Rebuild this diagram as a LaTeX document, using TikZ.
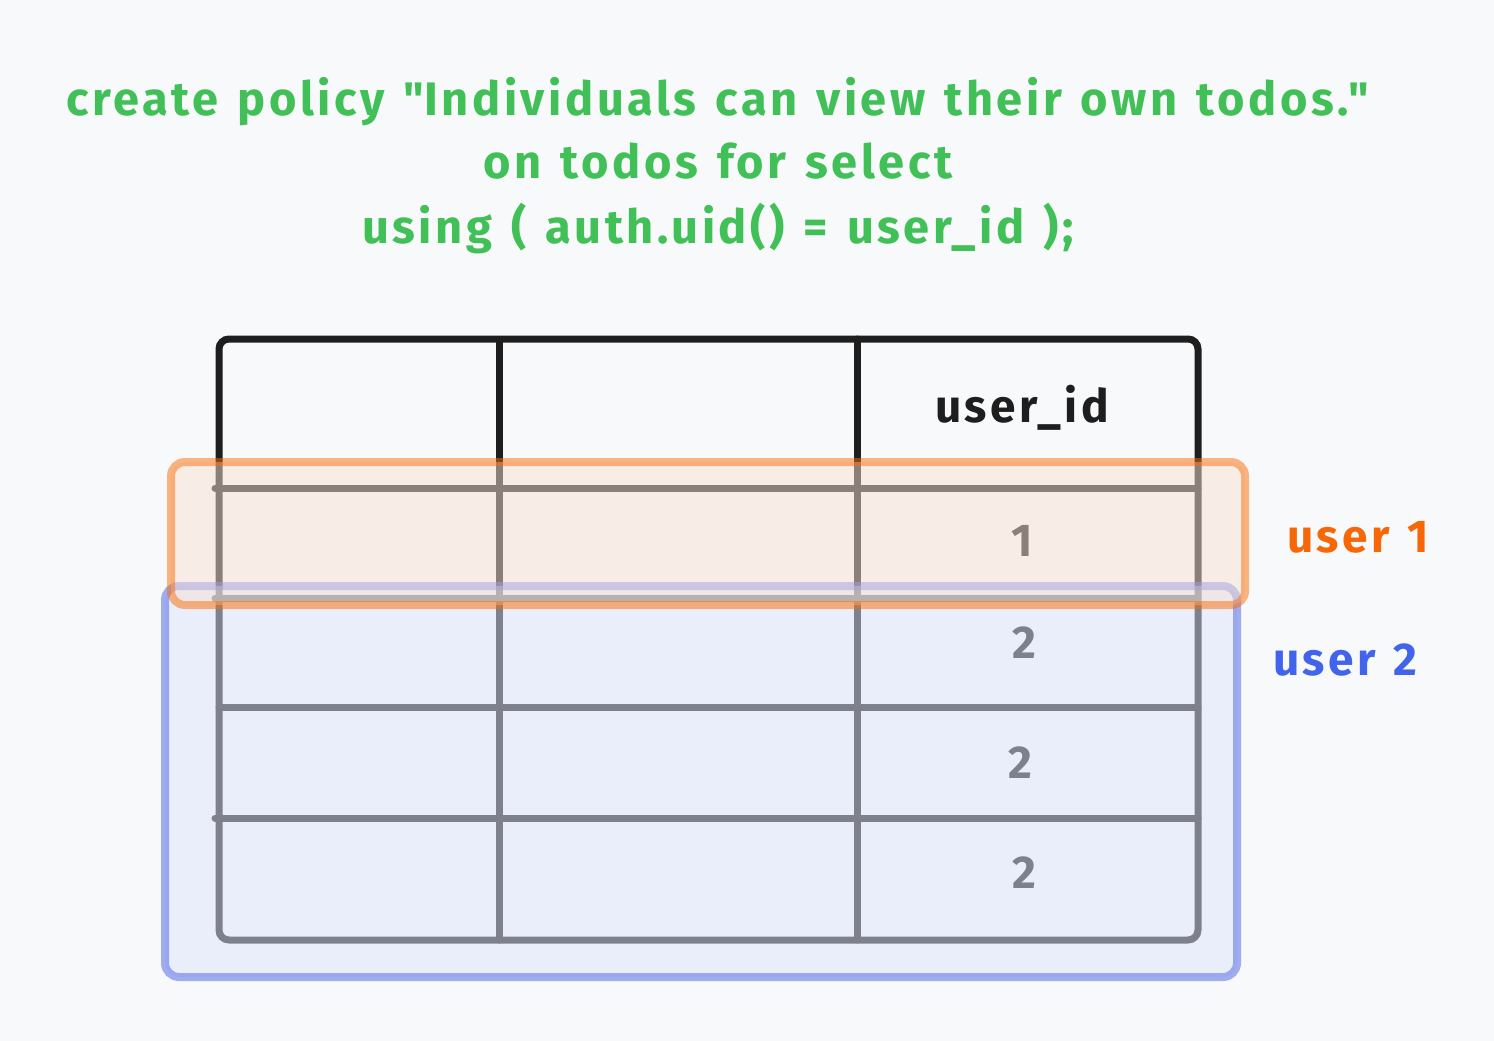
\documentclass[tikz,border=0pt]{standalone}
\usepackage{fontspec}
\setmainfont{Fira Sans}[LetterSpace=7.5]
\definecolor{bg}{HTML}{F8F9FB}
\definecolor{ttl}{HTML}{40C057}
\definecolor{ink}{HTML}{1E1E1E}
\definecolor{oline}{RGB}{248,111,9}
\definecolor{ofill}{RGB}{248,225,213}
\definecolor{bline}{RGB}{72,99,229}
\definecolor{bfill}{RGB}{222,226,250}
\definecolor{otext}{HTML}{F76707}
\definecolor{btext}{HTML}{4263EB}
\newcommand{\ttlfont}{\fontsize{47}{56}\selectfont\bfseries\setlength{\spaceskip}{19pt}}
\newcommand{\labfont}{\fontsize{46}{55}\selectfont\bfseries\setlength{\spaceskip}{18pt}}
\begin{document}
\begin{tikzpicture}[x=1pt,y=-1pt,
  title/.style={text=ttl,font=\ttlfont,anchor=base,inner sep=0},
  cell/.style={text=ink,font=\fontsize{46}{55}\selectfont\bfseries,anchor=base,inner sep=0},
  grid/.style={draw=ink,line width=7pt,line cap=round},
  overlay/.style={line width=8pt,rounded corners=14pt,draw opacity=0.5,fill opacity=0.5},
  lab/.style={font=\labfont,anchor=base west,inner sep=0}]
\fill[bg] (0,0) rectangle (1494,1041);
\useasboundingbox (0,0) rectangle (1494,1041);
% title
\node[title] (t1) at (718,115) {create policy \textquotedbl Individuals can view their own todos.\textquotedbl};
\node[title] (t2) at (718,178) {on todos for select};
\node[title] (t3) at (718,243) {using ( auth.uid() = user\_id );};
% table
\draw[grid,rounded corners=10pt] (219,339) rectangle (1198,940);
\draw[grid] (499,341) -- (499,940);
\draw[grid] (857,339) -- (857,940);
\draw[grid] (215,488) -- (1198,488);
\draw[grid] (215,598) -- (1198,598);
\draw[grid] (219,707) -- (1198,707);
\draw[grid] (215,818) -- (1198,818);
\node[cell] (h) at (1022,422) {user\_id};
\node[cell] (r1) at (1022,556) {1};
\node[cell] (r2) at (1024,658) {2};
\node[cell] (r3) at (1020,778) {2};
\node[cell] (r4) at (1024,888) {2};
% overlays
\draw[overlay,draw=bline,fill=bfill] (165,586) rectangle (1237,977);
\draw[overlay,draw=oline,fill=ofill] (171,462) rectangle (1245,605);
\node[lab,text=otext] (u1) at (1287,552) {user 1};
\node[lab,text=btext] (u2) at (1273,675) {user 2};
\end{tikzpicture}
\end{document}
